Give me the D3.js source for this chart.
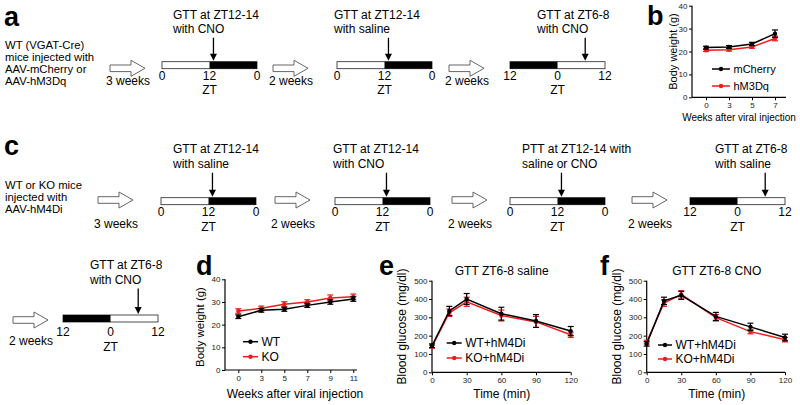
<!DOCTYPE html>
<html>
<head>
<meta charset="utf-8">
<script src="https://cdn.jsdelivr.net/npm/d3@7"></script>
<style>
  body { margin: 0; background: #fff; }
  svg { display: block; font-family: "Liberation Sans", Arial, sans-serif; }
</style>
</head>
<body>
<svg id="fig" width="800" height="405"></svg>
<script>
// ---- data ----
// panel b: body weight (g)
const bWeeks = [0, 3, 5, 7]
const bMCherry = [21.7, 22.0, 23.3, 27.8]
const bMCherryErr = [0.6, 0.6, 0.7, 1.6]
const bHM3Dq = [20.5, 20.8, 22.0, 25.7]
const bHM3DqErr = [0.5, 0.6, 0.6, 1.0]

// panel d: body weight (g)
const dWeeks = [0, 3, 5, 7, 9, 11]
const dWT = [23.5, 26.3, 26.8, 28.5, 30.0, 31.3]
const dWTErr = [0.8, 0.8, 0.9, 0.9, 1.0, 1.0]
const dKO = [26.0, 27.2, 29.0, 30.0, 31.8, 32.3]
const dKOErr = [1.0, 1.0, 1.1, 1.0, 1.3, 1.2]

// panels e, f: blood glucose (mg/dl)
const gttTime = [0, 15, 30, 60, 90, 120]
const eWT = [145, 335, 400, 320, 280, 225]
const eWTErr = [10, 25, 30, 35, 35, 25]
const eKO = [140, 325, 385, 310, 275, 205]
const eKOErr = [8, 20, 25, 30, 30, 15]
const fWT = [155, 390, 420, 305, 248, 190]
const fWTErr = [12, 20, 22, 22, 20, 18]
const fKO = [165, 378, 425, 298, 222, 178]
const fKOErr = [10, 18, 20, 18, 12, 12]

const weightTicks = [0, 10, 20, 30, 40]
const glucoseTicks = [0, 100, 200, 300, 400, 500]
const timeTicks = [0, 30, 60, 90, 120]

// schematic text
const aIntro = ["WT (VGAT-Cre)", "mice injected with", "AAV-mCherry or", "AAV-hM3Dq"]
const cIntro = ["WT or KO mice", "injected with", "AAV-hM4Di"]
const aSteps = [
  { wait: "3 weeks", phase: "LD", zt: 13, note: ["GTT at ZT12-14", "with CNO"] },
  { wait: "2 weeks", phase: "LD", zt: 13, note: ["GTT at ZT12-14", "with saline"] },
  { wait: "2 weeks", phase: "DL", zt: 7, note: ["GTT at ZT6-8", "with CNO"] }
]
const cSteps = [
  { wait: "3 weeks", phase: "LD", zt: 13, note: ["GTT at ZT12-14", "with saline"] },
  { wait: "2 weeks", phase: "LD", zt: 13, note: ["GTT at ZT12-14", "with CNO"] },
  { wait: "2 weeks", phase: "LD", zt: 13, note: ["PTT at ZT12-14 with", "saline or CNO"] },
  { wait: "2 weeks", phase: "DL", zt: 7, note: ["GTT at ZT6-8", "with saline"] },
  { wait: "2 weeks", phase: "DL", zt: 7, note: ["GTT at ZT6-8", "with CNO"] }
]
const phaseLabels = { LD: ["0", "12", "0"], DL: ["12", "0", "12"] }

const RED = "#ee1c1c"
const svg = d3.select("#fig")

// ---- schematic ----
const barW = 95, barH = 7

function hollowArrow(g, x0, cy) {
  const p = d3.path()
  p.moveTo(x0, cy - 3.3)
  p.lineTo(x0 + 21, cy - 3.3)
  p.lineTo(x0 + 21, cy - 8)
  p.lineTo(x0 + 35, cy)
  p.lineTo(x0 + 21, cy + 8)
  p.lineTo(x0 + 21, cy + 3.3)
  p.lineTo(x0, cy + 3.3)
  p.closePath()
  g.append("path").attr("d", p.toString())
    .attr("fill", "#fff").attr("stroke", "#555").attr("stroke-width", 0.9)
}

function drawStep(g, step, lay, row) {
  const top = row.barTop
  hollowArrow(g, lay.arrowX, row.arrowCy)
  g.append("text").attr("x", lay.arrowX + 18).attr("y", row.arrowCy + row.waitDy)
    .attr("text-anchor", "middle").attr("font-size", 12).text(step.wait)

  const hours = d3.scaleLinear().domain([0, 24]).range([lay.barX, lay.barX + barW])
  const dark = step.phase === "LD" ? [12, 24] : [0, 12]
  g.append("rect").attr("x", hours(0)).attr("y", top).attr("width", barW).attr("height", barH)
    .attr("fill", "#fff").attr("stroke", "#222").attr("stroke-width", 0.8)
  g.append("rect").attr("x", hours(dark[0])).attr("y", top)
    .attr("width", hours(dark[1]) - hours(dark[0])).attr("height", barH).attr("fill", "#000")

  phaseLabels[step.phase].forEach((t, i) => {
    g.append("text").attr("x", hours(i * 12)).attr("y", top + barH + row.tickDy)
      .attr("text-anchor", "middle").attr("font-size", 12).text(t)
  })
  g.append("text").attr("x", hours(12)).attr("y", top + barH + row.ztDy)
    .attr("text-anchor", "middle").attr("font-size", 12).text("ZT")

  // arrow pointing at test time
  const ax = hours(step.phase === "LD" ? step.zt : (step.zt + 12) % 24)
  const y1 = top + row.noteDy[1] + 5
  g.append("line").attr("x1", ax).attr("x2", ax).attr("y1", y1).attr("y2", top - 7)
    .attr("stroke", "#000").attr("stroke-width", 1.3)
  g.append("path").attr("d", `M${ax - 3.5},${top - 8} L${ax + 3.5},${top - 8} L${ax},${top - 1} Z`)
    .attr("fill", "#000")

  step.note.forEach((t, i) => {
    g.append("text").attr("x", lay.barX + lay.noteDx).attr("y", top + row.noteDy[i])
      .attr("font-size", 12).text(t)
  })
}

const rowA = { barTop: 61.7, arrowCy: 68.3, waitDy: 16.5, tickDy: 11, ztDy: 25, noteDy: [-42.5, -29] }
const rowC = { barTop: 197.7, arrowCy: 200, waitDy: 27.5, tickDy: 11, ztDy: 26, noteDy: [-45, -30] }
const rowE = { barTop: 315, arrowCy: 320, waitDy: 24.5, tickDy: 14, ztDy: 29, noteDy: [-46, -31.5] }

const aLayout = [
  { arrowX: 110, barX: 162, noteDx: 11 },
  { arrowX: 273, barX: 337, noteDx: -3 },
  { arrowX: 449, barX: 510, noteDx: 27 }
]
const cLayout = [
  { arrowX: 98, barX: 161, noteDx: 12 },
  { arrowX: 275, barX: 335, noteDx: -2 },
  { arrowX: 452, barX: 510, noteDx: 12 },
  { arrowX: 632, barX: 690, noteDx: 25 }
]
const eLayout = { arrowX: 13, barX: 63, noteDx: 27 }

const sch = svg.append("g")
aIntro.forEach((t, i) => sch.append("text").attr("x", 5).attr("y", 48.5 + i * 12).attr("font-size", 11.3).text(t))
cIntro.forEach((t, i) => sch.append("text").attr("x", 5).attr("y", 188.5 + i * 12).attr("font-size", 11.3).text(t))
aSteps.forEach((s, i) => drawStep(sch, s, aLayout[i], rowA))
cSteps.slice(0, 4).forEach((s, i) => drawStep(sch, s, cLayout[i], rowC))
drawStep(sch, cSteps[4], eLayout, rowE)

// panel letters
const letters = [["a", 4, 26, 27], ["b", 647, 25, 27], ["c", 4, 155, 27], ["d", 196, 275, 27], ["e", 379, 275, 27], ["f", 600, 275, 27]]
letters.forEach(([t, x, y, s]) => svg.append("text").attr("x", x).attr("y", y)
  .attr("font-size", s).attr("font-weight", "bold").text(t))

// ---- line charts ----
function drawChart(o) {
  const g = svg.append("g")
  const xa = d3.axisBottom(o.x).tickValues(o.xTicks).tickSize(3).tickPadding(2)
  const ya = d3.axisLeft(o.y).tickValues(o.yTicks).tickSize(3).tickPadding(1.5)
  const y0 = o.y(o.yTicks[0])
  g.append("g").attr("transform", `translate(0,${y0})`).call(xa)
    .call(s => s.select(".domain").remove())
    .call(s => s.selectAll("text").attr("font-size", o.tickFont).attr("fill", "#222"))
  g.append("g").attr("transform", `translate(${o.xAxis[0]},0)`).call(ya)
    .call(s => s.select(".domain").remove())
    .call(s => s.selectAll("text").attr("font-size", o.tickFont).attr("fill", "#222"))
  g.selectAll(".tick line").attr("stroke", "#000")
  g.append("line").attr("x1", o.xAxis[0]).attr("x2", o.xAxis[1]).attr("y1", y0).attr("y2", y0)
    .attr("stroke", "#000").attr("stroke-width", 1.2)
  g.append("line").attr("x1", o.xAxis[0]).attr("x2", o.xAxis[0])
    .attr("y1", y0).attr("y2", o.y(o.yTicks[o.yTicks.length - 1]))
    .attr("stroke", "#000").attr("stroke-width", 1.2)

  const xs = o.xValues
  o.series.forEach(s => {
    const pts = xs.map((x, i) => ({ x: o.x(x), y: o.y(s.values[i]), lo: o.y(s.values[i] - s.errs[i]), hi: o.y(s.values[i] + s.errs[i]) }))
    pts.forEach(p => {
      g.append("line").attr("x1", p.x).attr("x2", p.x).attr("y1", p.lo).attr("y2", p.hi)
        .attr("stroke", s.color).attr("stroke-width", 1.2)
      ;[p.lo, p.hi].forEach(yy => g.append("line").attr("x1", p.x - 3).attr("x2", p.x + 3)
        .attr("y1", yy).attr("y2", yy).attr("stroke", s.color).attr("stroke-width", 1.2))
    })
    g.append("path").datum(pts).attr("d", d3.line().x(d => d.x).y(d => d.y))
      .attr("fill", "none").attr("stroke", s.color).attr("stroke-width", 1.5)
    g.selectAll(null).data(pts).join("circle").attr("cx", d => d.x).attr("cy", d => d.y)
      .attr("r", 2.2).attr("fill", s.color)
  })

  // legend
  o.series.slice().reverse().forEach((s, i) => {
    const ly = o.legend.y[i]
    g.append("line").attr("x1", o.legend.x).attr("x2", o.legend.x + o.legend.w).attr("y1", ly).attr("y2", ly)
      .attr("stroke", s.color).attr("stroke-width", 1.5)
    g.append("circle").attr("cx", o.legend.x + o.legend.w / 2).attr("cy", ly).attr("r", 2.2).attr("fill", s.color)
    g.append("text").attr("x", o.legend.x + o.legend.w + 3.5).attr("y", ly + o.legend.font * 0.36)
      .attr("font-size", o.legend.font).text(s.name)
  })

  g.append("text").attr("transform", `translate(${o.yLabel.x},${o.yLabel.y}) rotate(-90)`)
    .attr("text-anchor", "middle").attr("font-size", o.yLabel.font).text(o.yLabel.text)
  g.append("text").attr("x", o.xLabel.x).attr("y", o.xLabel.y)
    .attr("text-anchor", "middle").attr("font-size", o.xLabel.font).text(o.xLabel.text)
  if (o.title) g.append("text").attr("x", o.title.x).attr("y", o.title.y)
    .attr("text-anchor", "middle").attr("font-size", 12).text(o.title.text)
}

// b
drawChart({
  x: d3.scalePoint().domain(bWeeks).range([706, 775]),
  y: d3.scaleLinear().domain([0, 40]).range([97.3, 5.7]),
  xValues: bWeeks, xTicks: bWeeks, yTicks: weightTicks, xAxis: [692, 786], tickFont: 8,
  series: [
    { name: "hM3Dq", values: bHM3Dq, errs: bHM3DqErr, color: RED },
    { name: "mCherry", values: bMCherry, errs: bMCherryErr, color: "#000" }
  ],
  legend: { x: 712, w: 18, y: [69, 86], font: 11 },
  yLabel: { x: 677, y: 51.5, font: 11, text: "Body weight (g)" },
  xLabel: { x: 739, y: 120.5, font: 10, text: "Weeks after viral injection" }
})

// d
drawChart({
  x: d3.scalePoint().domain(dWeeks).range([238.3, 353.3]),
  y: d3.scaleLinear().domain([0, 40]).range([370, 279.3]),
  xValues: dWeeks, xTicks: dWeeks, yTicks: weightTicks, xAxis: [225, 357], tickFont: 8,
  series: [
    { name: "KO", values: dKO, errs: dKOErr, color: RED },
    { name: "WT", values: dWT, errs: dWTErr, color: "#000" }
  ],
  legend: { x: 243, w: 15, y: [341.7, 356.7], font: 12 },
  yLabel: { x: 204, y: 327, font: 11.5, text: "Body weight (g)" },
  xLabel: { x: 295, y: 397.5, font: 12, text: "Weeks after viral injection" }
})

// e
drawChart({
  x: d3.scaleLinear().domain([0, 120]).range([432, 570.7]),
  y: d3.scaleLinear().domain([0, 500]).range([372.3, 280.7]),
  xValues: gttTime, xTicks: timeTicks, yTicks: glucoseTicks, xAxis: [432, 570.7], tickFont: 8,
  series: [
    { name: "KO+hM4Di", values: eKO, errs: eKOErr, color: RED },
    { name: "WT+hM4Di", values: eWT, errs: eWTErr, color: "#000" }
  ],
  legend: { x: 446.7, w: 15, y: [343, 358], font: 12 },
  yLabel: { x: 406, y: 326.5, font: 12, text: "Blood glucose (mg/dl)" },
  xLabel: { x: 501.7, y: 398, font: 12, text: "Time (min)" },
  title: { x: 501.7, y: 275, text: "GTT ZT6-8 saline" }
})

// f
drawChart({
  x: d3.scaleLinear().domain([0, 120]).range([646.7, 785]),
  y: d3.scaleLinear().domain([0, 500]).range([372.3, 280.7]),
  xValues: gttTime, xTicks: timeTicks, yTicks: glucoseTicks, xAxis: [646.7, 785], tickFont: 8,
  series: [
    { name: "KO+hM4Di", values: fKO, errs: fKOErr, color: RED },
    { name: "WT+hM4Di", values: fWT, errs: fWTErr, color: "#000" }
  ],
  legend: { x: 658, w: 14, y: [345, 359], font: 12 },
  yLabel: { x: 621, y: 326.5, font: 12, text: "Blood glucose (mg/dl)" },
  xLabel: { x: 716.7, y: 398, font: 12, text: "Time (min)" },
  title: { x: 716.7, y: 275, text: "GTT ZT6-8 CNO" }
})
</script>
</body>
</html>
